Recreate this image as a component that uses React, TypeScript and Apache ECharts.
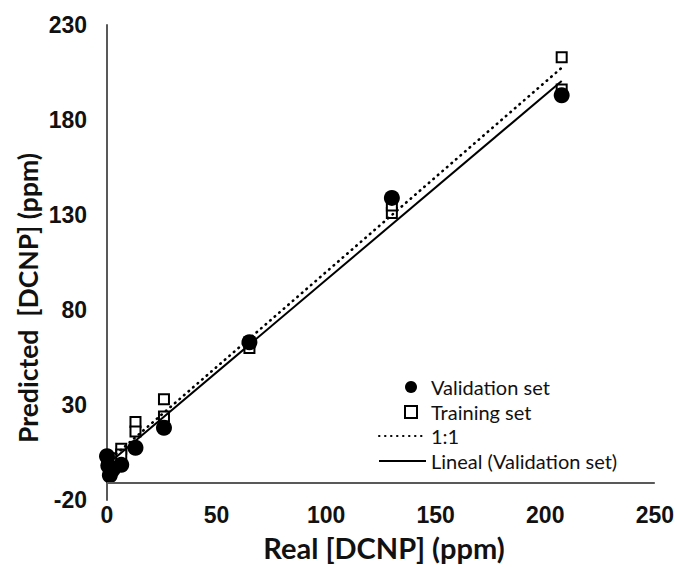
import React, { useEffect, useRef } from "react";
import * as echarts from "echarts";

// Validation set (filled circles)
const validationReal = [0, 0.6, 1.3, 2.6, 6.5, 13, 26, 65, 130, 207.5];
const validationPred = [3, -2, -7, -4, -1.5, 7.5, 18, 63, 139, 193];

// Training set (open squares)
const trainingReal = [0, 0.6, 1.3, 2.6, 6.5, 6.5, 13, 13, 26, 26, 65, 65, 130, 130, 207.5, 207.5];
const trainingPred = [1, -1, -3, 2, 7, 4, 21, 16, 33, 24, 60, 63, 131, 135, 213, 196];

// 1:1 reference line
const identityX = [0, 207.5];
const identityY = [0, 207.5];

// Linear trend of validation set
const trendX = [0, 207.5];
const trendY = [-1.5, 200.5];

// Horizontal axis crossing value
const axisCross = -11;

const xTicks = { min: 0, max: 250, interval: 50 };
const yTicks = { min: -20, max: 230, interval: 50 };

const zip = (a: number[], b: number[]) => a.map((v, i) => [v, b[i]]);

export default function App() {
  const ref = useRef<HTMLDivElement>(null);
  useEffect(() => {
    const chart = echarts.init(ref.current!, null, { renderer: "svg" });
    const tickFont = {
      fontFamily: "Liberation Sans",
      fontWeight: "bold" as const,
      fontSize: 23,
      color: "#111",
    };
    const legendText = {
      fontFamily: "Lato",
      fontSize: 20,
      lineHeight: 20,
      color: "#111",
    };
    chart.setOption({
      animation: false,
      backgroundColor: "#fff",
      grid: { left: 107, right: 20, top: 25, bottom: 67 },
      xAxis: {
        type: "value",
        ...xTicks,
        axisLine: { show: false },
        axisTick: { show: false },
        splitLine: { show: false },
        axisLabel: { ...tickFont, margin: 3 },
      },
      yAxis: {
        type: "value",
        ...yTicks,
        axisLine: { show: true, onZero: false, lineStyle: { color: "#595959", width: 2 } },
        axisTick: { show: false },
        splitLine: { show: false },
        axisLabel: { ...tickFont, margin: 20 },
      },
      legend: [
        {
          data: [{ name: "Validation set", icon: "circle" }, { name: "Training set", icon: "rect" }],
          orient: "vertical",
          left: 399,
          top: 372,
          itemWidth: 12,
          itemHeight: 12,
          itemGap: 5,
          textStyle: { ...legendText, padding: [0, 0, 0, 9] },
        },
        {
          data: ["1:1", "Lineal (Validation set)"],
          orient: "vertical",
          left: 373,
          top: 421,
          itemWidth: 47,
          itemHeight: 12,
          itemGap: 5,
          itemStyle: { opacity: 0 },
          textStyle: { ...legendText, padding: [0, 0, 0, 0] },
        },
      ],
      graphic: [
        {
          type: "text",
          x: 384,
          y: 547,
          style: {
            text: "Real [DCNP] (ppm)",
            fontFamily: "Lato",
            fontWeight: "bold",
            fontSize: 29,
            fill: "#111",
            align: "center",
            verticalAlign: "middle",
          },
        },
        {
          type: "text",
          x: 28,
          y: 298,
          rotation: Math.PI / 2,
          style: {
            text: "Predicted  [DCNP] (ppm)",
            fontFamily: "Lato",
            fontWeight: "bold",
            fontSize: 26.5,
            fill: "#111",
            align: "center",
            verticalAlign: "middle",
          },
        },
      ],
      series: [
        {
          name: "Training set",
          type: "scatter",
          symbol: "rect",
          symbolSize: 10,
          itemStyle: { color: "#fff", borderColor: "#000", borderWidth: 2, opacity: 1 },
          data: zip(trainingReal, trainingPred),
          z: 2,
        },
        {
          name: "Validation set",
          type: "scatter",
          symbol: "circle",
          symbolSize: 16,
          itemStyle: { color: "#000", opacity: 1 },
          data: zip(validationReal, validationPred),
          z: 3,
        },
        {
          name: "1:1",
          type: "line",
          color: "#000",
          showSymbol: false,
          symbol: "none",
          itemStyle: { color: "#000" },
          lineStyle: { color: "#000", width: 2.6, type: [0.5, 5.5], cap: "round" },
          data: zip(identityX, identityY),
          z: 4,
        },
        {
          name: "Lineal (Validation set)",
          type: "line",
          color: "#000",
          showSymbol: false,
          symbol: "none",
          itemStyle: { color: "#000" },
          lineStyle: { color: "#000", width: 2 },
          data: zip(trendX, trendY),
          z: 4,
          markLine: {
            silent: true,
            symbol: "none",
            label: { show: false },
            lineStyle: { color: "#595959", width: 2, type: "solid" },
            data: [{ yAxis: axisCross }],
          },
        },
      ],
    });
    return () => chart.dispose();
  }, []);
  return (
    <div
      ref={ref}
      style={{ position: "fixed", left: 0, top: 0, width: 677, height: 567, background: "#fff" }}
    />
  );
}
